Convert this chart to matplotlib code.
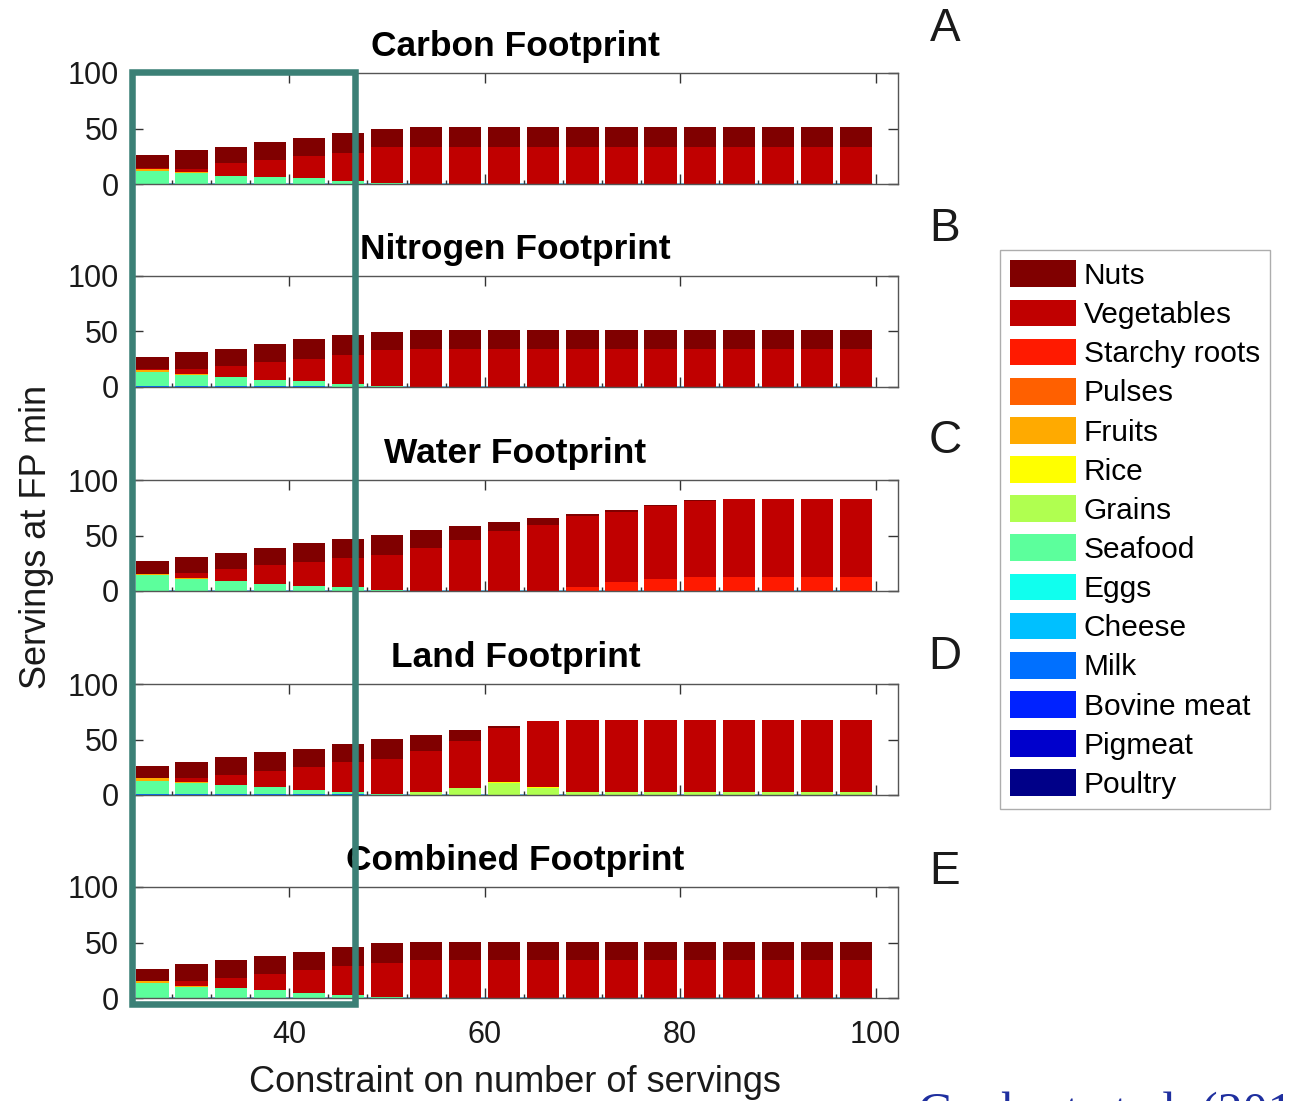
import numpy as np
import matplotlib
matplotlib.use("Agg")
import matplotlib.pyplot as plt
from matplotlib.patches import Rectangle, Patch

plt.rcParams["font.family"] = ["Liberation Sans", "DejaVu Sans"]

# stacking order, bottom to top
foods = ["Poultry", "Pigmeat", "Bovine meat", "Milk", "Cheese", "Eggs", "Seafood",
         "Grains", "Rice", "Fruits", "Pulses", "Starchy roots", "Vegetables", "Nuts"]
food_colors = ["#000088", "#0000cc", "#0022ff", "#0070ff", "#00c0ff", "#10ffee", "#5cff9c",
               "#b0ff50", "#ffff00", "#ffaa00", "#ff6000", "#ff1a00", "#c00000", "#800000"]

servings = list(range(26, 99, 4))

# Carbon footprint
carbon_seafood = [12, 10, 7.5, 6.5, 5, 3, 0.5] + [0] * 12
carbon_fruits = [1.5, 0.5] + [0] * 17
carbon_veg = [1, 3, 11.5, 15, 20.5, 25, 32.5] + [33.5] * 12
carbon_nuts = [12, 17, 14.5, 16, 16, 18, 16.5] + [17.5] * 12

# Nitrogen footprint
nitrogen_milk = [0.5, 1, 1, 1, 0.5] + [0] * 14
nitrogen_seafood = [13, 10, 8, 5.5, 4.5, 3, 0.5] + [0] * 12
nitrogen_fruits = [2, 0.5] + [0] * 17
nitrogen_veg = [0.5, 4.5, 9.5, 16, 20.5, 26, 32.5] + [33.8] * 12
nitrogen_nuts = [11.3, 15.5, 16, 16, 17.3, 17.5, 17] + [18] * 12

# Water footprint
water_seafood = [14, 11, 9, 6.6, 4.5, 3.6, 1] + [0] * 12
water_fruits = [1.5, 0.5] + [0] * 17
water_starchy = [0] * 11 + [3.5, 8, 10.5, 12.5, 12.5, 12.5, 12.5, 12.5]
water_veg = [0, 4.7, 10.5, 16.6, 21.7, 26.2, 31.8, 38.8, 45.7, 54.2, 59.2,
             63.8, 63.5, 66.1, 68.8, 70.2, 70.2, 70.2, 70.2]
water_nuts = [11.5, 14.5, 14.8, 15.7, 16.6, 16.9, 17.5, 16, 13, 7.8, 6.6,
              2.4, 1.8, 1, 0.5, 0, 0, 0, 0]

# Land footprint
land_milk = [1, 1, 1, 1, 1, 0.5] + [0] * 13
land_seafood = [11.7, 9.6, 8, 6, 3.5, 1.9, 1] + [0] * 12
land_grains = [0] * 7 + [2.4, 6.7, 10.6, 6.7] + [3] * 8
land_rice = [0] * 9 + [0.8, 0.8] + [0] * 8
land_fruits = [2.4, 1] + [0] * 17
land_veg = [0, 3.4, 9.2, 14.5, 20.6, 26.9, 31.6, 37.1, 41.8, 49.1, 59.2] + [65] * 8
land_nuts = [11.2, 15, 16, 17, 16.7, 16.7, 18, 15, 10, 1.5] + [0] * 9

# Combined footprint
comb_seafood = [13.2, 10.3, 8.8, 6.8, 4.7, 3, 0.5] + [0] * 12
comb_fruits = [2, 0.5] + [0] * 17
comb_veg = [0, 4.5, 9.4, 15.2, 20.3, 25.8, 31.3] + [33.9] * 12
comb_nuts = [11.2, 15.3, 15.6, 16.2, 16.8, 17.4, 17.6] + [17] * 12

panels = [
    ("Carbon Footprint", "A", {"Seafood": carbon_seafood, "Fruits": carbon_fruits,
                               "Vegetables": carbon_veg, "Nuts": carbon_nuts}),
    ("Nitrogen Footprint", "B", {"Milk": nitrogen_milk, "Seafood": nitrogen_seafood,
                                 "Fruits": nitrogen_fruits, "Vegetables": nitrogen_veg,
                                 "Nuts": nitrogen_nuts}),
    ("Water Footprint", "C", {"Seafood": water_seafood, "Fruits": water_fruits,
                              "Starchy roots": water_starchy, "Vegetables": water_veg,
                              "Nuts": water_nuts}),
    ("Land Footprint", "D", {"Milk": land_milk, "Seafood": land_seafood, "Grains": land_grains,
                             "Rice": land_rice, "Fruits": land_fruits,
                             "Vegetables": land_veg, "Nuts": land_nuts}),
    ("Combined Footprint", "E", {"Seafood": comb_seafood, "Fruits": comb_fruits,
                                 "Vegetables": comb_veg, "Nuts": comb_nuts}),
]

W, H = 1291, 1101
fig = plt.figure(figsize=(W / 100, H / 100), dpi=100)

ax_left = 133 / W
ax_width = (898 - 133) / W
ax_height = 111 / H
panel_bottoms = [184, 387, 591, 795, 998]
letter_y = [29, 229, 441, 657, 872]

x = np.array(servings)
bar_w = 3.3

for i, (title, letter, stacks) in enumerate(panels):
    ax = fig.add_axes([ax_left, 1 - panel_bottoms[i] / H, ax_width, ax_height])
    bottom = np.zeros(len(x))
    ax.hlines(0, x[0] - bar_w / 2, x[-1] + bar_w / 2, color="#5ab4e6", lw=2, zorder=1)
    for food, col in zip(foods, food_colors):
        if food not in stacks:
            continue
        vals = np.array(stacks[food], dtype=float)
        ax.bar(x, vals, width=bar_w, bottom=bottom, color=col, edgecolor="none", zorder=2)
        bottom = bottom + vals
    ax.set_xlim(24, 102.3)
    ax.set_ylim(0, 100)
    ax.set_yticks([0, 50, 100])
    ax.set_xticks([40, 60, 80, 100])
    ax.set_xticks(np.arange(28, 101, 4), minor=True)
    ax.tick_params(which="major", direction="in", length=7, width=1, top=True, right=True,
                   labelsize=22, colors="#333333", labelcolor="#1a1a1a", pad=12)
    ax.tick_params(axis="y", pad=10)
    ax.tick_params(which="minor", direction="in", length=3, width=1, bottom=True, top=False,
                   colors="#333333")
    if i < 4:
        ax.tick_params(labelbottom=False)
    else:
        ax.tick_params(axis="x", pad=16)
    for s in ax.spines.values():
        s.set_color("#555555")
        s.set_linewidth(1)
    ax.set_title(title, fontsize=25.5, fontweight="bold", pad=12)
    fig.text(945 / W, 1 - letter_y[i] / H, letter, fontsize=33, ha="center", va="center",
             color="#1a1a1a")

# legend, top entry first
handles = [Patch(facecolor=c, edgecolor="none") for c in food_colors[::-1]]
fig.legend(handles, foods[::-1], loc="upper left", bbox_to_anchor=(1000 / W, 1 - 250 / H),
           fontsize=21.5, frameon=True, fancybox=False, edgecolor="#999999",
           handlelength=2.2, handleheight=1.0, labelspacing=0.32, handletextpad=0.25,
           borderpad=0.35, borderaxespad=0)

fig.text(515 / W, 1 - 1082 / H, "Constraint on number of servings", fontsize=26,
         ha="center", va="center", color="#1a1a1a")
fig.text(37 / W, 1 - 537 / H, "Servings at FP min", fontsize=26, rotation=90,
         ha="center", va="center", color="#1a1a1a")

fig.text(918 / W, 1 - 1091 / H, "Gephart et al. (2016)", fontsize=36, ha="left", va="top",
         color="#1f2f9f", family=["Liberation Serif", "DejaVu Serif"])

# highlight box over the lower-serving bars
fig.patches.append(Rectangle((131.5 / W, 1 - 1004 / H), (355 - 131.5) / W, (1004 - 71.5) / H,
                             transform=fig.transFigure, fill=False, edgecolor="#3b8076",
                             linewidth=4.7, zorder=10))

fig.savefig("out.png", dpi=100)
